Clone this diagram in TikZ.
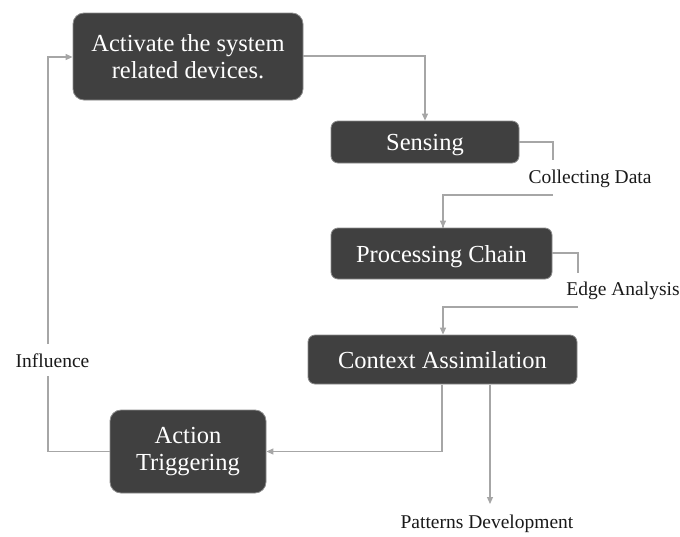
\documentclass[tikz,border=0pt]{standalone}
\usepackage{fontspec}
\setmainfont{Liberation Serif}
\usetikzlibrary{arrows.meta}
\definecolor{boxfill}{HTML}{404040}
\definecolor{boxline}{HTML}{8C8C8C}
\definecolor{wire}{HTML}{A6A6A6}
\begin{document}
\begin{tikzpicture}[x=1pt,y=-1pt,
  box/.style={draw=boxline, line width=0.8pt, fill=boxfill, text=white,
    rounded corners=7pt, inner sep=0pt, align=center,
    font=\fontsize{24.5}{27}\selectfont},
  oneline/.style={text depth=0pt},
  tag/.style={inner sep=0pt, text=black!90, font=\fontsize{19.5}{22}\selectfont},
  wirepath/.style={draw=wire, line width=1.2pt},
  flow/.style={wirepath, -{Triangle[length=7pt,width=6pt]}}]
  \useasboundingbox (0,0) rectangle (680,536);

  % process boxes
  \node[box, rounded corners=11pt, minimum width=230pt, minimum height=87pt]
    (act) at (188,56.5) {Activate the system\\related devices.};
  \node[box, oneline, minimum width=188pt, minimum height=42pt] (sens) at (425,142) {Sensing};
  \node[box, oneline, minimum width=221pt, minimum height=51pt] (proc) at (441.5,253.5) {Processing Chain};
  \node[box, oneline, minimum width=269pt, minimum height=49pt] (ctx) at (442.5,359.5) {Context Assimilation};
  \node[box, rounded corners=11pt, minimum width=156pt, minimum height=83pt]
    (trig) at (188,451.5) {Action\\Triggering};

  % edge labels
  \node[tag] (collect) at (590,179) {Collecting Data};
  \node[tag] (edge) at (623,291) {Edge Analysis};
  \node[tag] (patt) at (487,524) {Patterns Development};
  \node[tag] (infl) at (52.5,361) {Influence};

  % bend points of the connectors
  \coordinate (c1) at (553,160);
  \coordinate (c2) at (553,195);
  \coordinate (e1) at (578,273);
  \coordinate (e2) at (578,307);
  \coordinate (ctxb) at (442,384.5);
  \coordinate (patb) at (490,384.5);
  \coordinate (patt-end) at (490,504);
  \coordinate (i1) at (48,376);
  \coordinate (i2) at (48,344);

  % connectors
  \draw[flow] (act.east |- 0,56) -| (sens.north);
  \draw[wirepath] (sens.east) -| (c1);
  \draw[flow] (c2) -| (443,227.5) -- (proc.north -| 443,0);
  \draw[wirepath] (proc.east |- 0,253) -| (e1);
  \draw[flow] (e2) -| (ctx.north -| 443,0);
  \draw[flow] (ctxb) |- (trig.east);
  \draw[flow] (patb) -- (patt-end);
  \draw[wirepath] (trig.west) -| (i1);
  \draw[flow] (i2) |- (act.west |- 0,57);
\end{tikzpicture}
\end{document}
